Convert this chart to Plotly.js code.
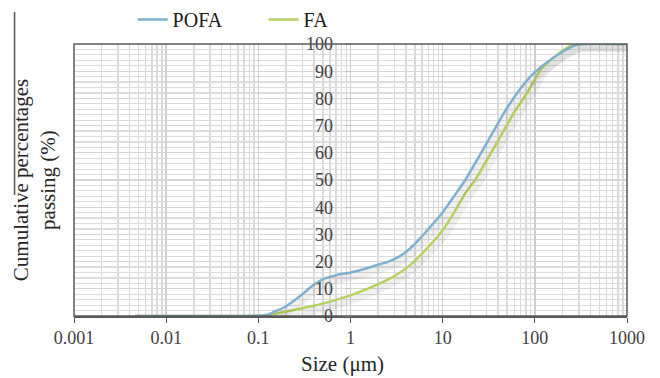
<!DOCTYPE html>
<html>
<head>
<meta charset="utf-8">
<script src="https://cdn.plot.ly/plotly-3.0.1.min.js"></script>
<style>html,body{margin:0;padding:0;background:#fff;}#chart{width:660px;height:378px;}</style>
</head>
<body>
<div id="chart"></div>
<script>
// Particle size (µm) and cumulative passing (%)
const sizesPOFA = [0.0046, 0.01, 0.05, 0.1, 0.13, 0.147, 0.2, 0.242, 0.3, 0.4, 0.5, 0.7, 1, 1.39, 2.11, 2.6, 3.48, 4.47, 5.73, 7.36, 9.85, 13.2, 17.6, 23.6, 32.9, 45.9, 64.1, 89.3, 124, 189, 264, 315, 1000];
const passingPOFA = [0, 0, 0, 0.1, 0.6, 1.5, 3.5, 5.5, 8, 11.5, 13.5, 15, 16, 17.2, 19.1, 20, 22.1, 24.9, 28.6, 32.8, 37.8, 43.9, 50, 57.4, 65.9, 74.5, 81.9, 88, 92.3, 96.6, 99.3, 100, 100];
const sizesFA = [0.0046, 0.01, 0.05, 0.1, 0.13, 0.17, 0.25, 0.4, 0.6, 1, 1.79, 2.94, 4.47, 6.22, 9.44, 13.2, 17.6, 22.6, 30.3, 42.3, 58.9, 82.2, 115, 174, 243, 300, 1000];
const passingFA = [0, 0, 0, 0.1, 0.3, 1.2, 2.3, 3.8, 5.3, 7.6, 11, 14.5, 18.8, 23.6, 30.4, 37.8, 45.1, 50, 57.4, 65.9, 74.5, 81.9, 90.5, 96, 99.3, 100, 100];
const seriesNames = ['POFA', 'FA'];
const xTickVals = [0.001, 0.01, 0.1, 1, 10, 100, 1000];
const xTickText = ['0.001', '0.01', '0.1', '1', '10', '100', '1000'];
const yTickVals = [0, 10, 20, 30, 40, 50, 60, 70, 80, 90, 100];

const serif = 'Liberation Serif, Times New Roman, serif';
const colBlue = '#7db1cf';
const colGreen = '#b6d160';

const shadow = (x, y) => ({
  x: x, y: y, xaxis: 'x2', yaxis: 'y2', type: 'scatter', mode: 'lines',
  line: {color: 'rgba(0,0,0,0.06)', width: 7, shape: 'spline', smoothing: 0.5},
  showlegend: false, hoverinfo: 'skip'
});

const traces = [
  shadow(sizesPOFA, passingPOFA),
  shadow(sizesFA, passingFA),
  {x: sizesFA, y: passingFA, name: seriesNames[1], type: 'scatter', mode: 'lines',
   line: {color: colGreen, width: 2.5, shape: 'spline', smoothing: 0.5}, legendrank: 2},
  {x: sizesPOFA, y: passingPOFA, name: seriesNames[0], type: 'scatter', mode: 'lines',
   line: {color: colBlue, width: 2.5, shape: 'spline', smoothing: 0.5}, legendrank: 1}
];

const layout = {
  width: 660, height: 378,
  margin: {l: 73.5, r: 33, t: 44, b: 62, autoexpand: false},
  paper_bgcolor: '#fff', plot_bgcolor: '#fff',
  showlegend: true,
  legend: {orientation: 'h', x: 0.106, y: 1.162, xanchor: 'left', yanchor: 'top',
           bgcolor: 'rgba(0,0,0,0)',
           font: {family: serif, size: 20, color: '#1a1a1a'}, traceorder: 'normal', entrywidth: 86},
  xaxis: {
    type: 'log', range: [-3, 3], domain: [0, 1],
    tickvals: xTickVals, ticktext: xTickText,
    tickfont: {family: serif, size: 18, color: '#404040'},
    ticks: 'outside', ticklen: 5, tickcolor: '#595959', tickwidth: 1,
    showgrid: true, gridcolor: '#cfcfcf', gridwidth: 1.5,
    minor: {dtick: 'D1', showgrid: true, gridcolor: '#dadada', gridwidth: 1.5, ticks: ''},
    showline: true, linecolor: '#595959', linewidth: 1.5,
    zeroline: false
  },
  yaxis: {
    range: [0, 100], anchor: 'free', position: 0.5,
    tickvals: yTickVals,
    tickfont: {family: serif, size: 18, color: '#404040'},
    ticks: 'outside', ticklen: 6, tickcolor: '#bfbfbf', tickwidth: 1,
    ticklabelstandoff: 8,
    showgrid: true, gridcolor: '#d6d6d6', gridwidth: 1.2,
    minor: {dtick: 2, showgrid: true, gridcolor: '#dcdcdc', gridwidth: 1.2, ticks: ''},
    showline: false, zeroline: false
  },
  xaxis2: {type: 'log', range: [-3.03, 2.97], overlaying: 'x', visible: false, showgrid: false},
  yaxis2: {range: [1.6, 101.6], overlaying: 'y', anchor: 'x2', visible: false, showgrid: false},
  shapes: [
    {type: 'rect', xref: 'paper', yref: 'paper', x0: 0, x1: 1, y0: 0, y1: 1,
     line: {color: '#595959', width: 1.5}, layer: 'above'},
    {type: 'line', xref: 'paper', yref: 'paper', x0: -0.1075, x1: -0.1075, y0: 0.445, y1: 1.118,
     line: {color: '#555', width: 1.5}}
  ],
  annotations: [
    {text: 'Cumulative percentages<br>passing (%)', xref: 'paper', yref: 'paper',
     x: -0.072, y: 0.5, xanchor: 'center', yanchor: 'middle', textangle: -90, showarrow: false,
     font: {family: serif, size: 21, color: '#262626'}},
    {text: 'Size (μm)', xref: 'paper', yref: 'paper', x: 0.485, y: -0.175,
     xanchor: 'center', yanchor: 'middle', showarrow: false,
     font: {family: serif, size: 21, color: '#262626'}}
  ]
};

Plotly.newPlot('chart', traces, layout, {displayModeBar: false, staticPlot: true});
</script>
</body>
</html>
